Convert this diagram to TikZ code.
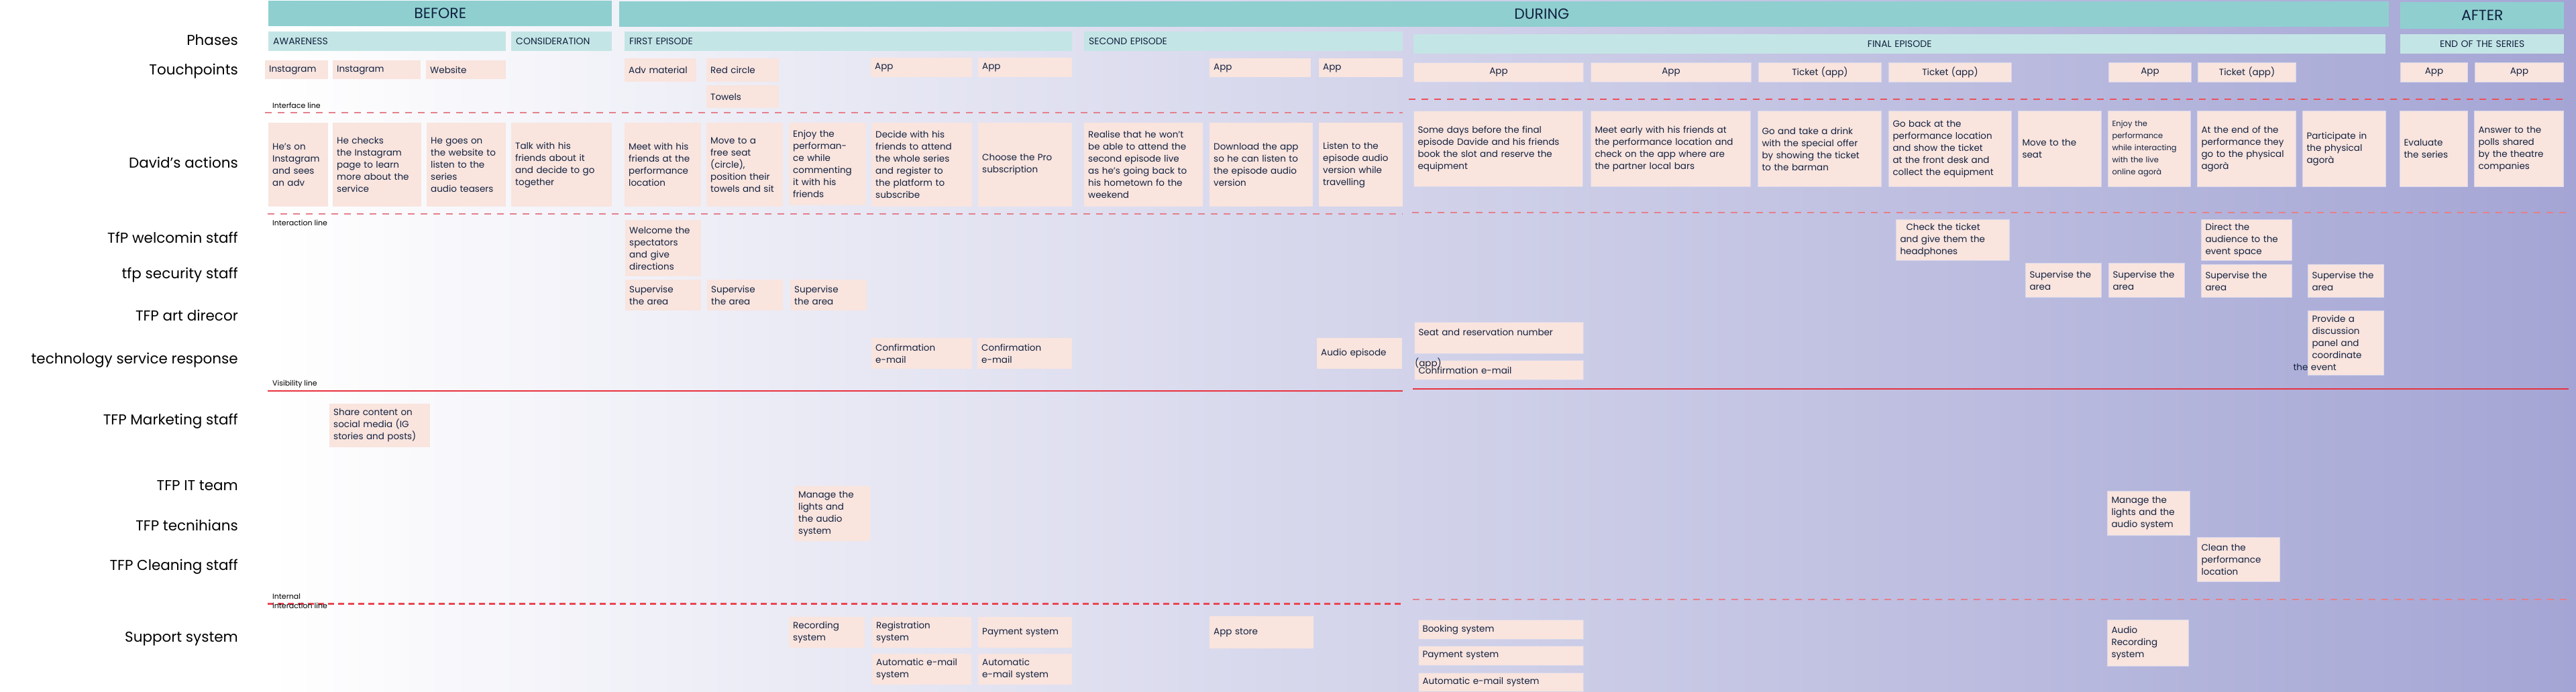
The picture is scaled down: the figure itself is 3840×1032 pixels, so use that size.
\documentclass[tikz,border=0pt]{standalone}
\usepackage{fontspec}
\setmainfont{Poppins}
\definecolor{teal1}{RGB}{143,207,208}
\definecolor{teal2}{RGB}{196,229,229}
\definecolor{cardfill}{RGB}{249,228,222}
\definecolor{navy}{RGB}{18,34,64}
\definecolor{lav}{RGB}{164,165,212}
\definecolor{dashpink}{RGB}{229,128,140}
\definecolor{redline}{RGB}{232,50,63}

\begin{document}
\begin{tikzpicture}[x=1pt,y=-1pt]
\tikzstyle{lane}=[anchor=east,inner sep=0pt,font=\fontsize{21.5}{24}\selectfont]
\tikzstyle{linelab}=[anchor=west,inner sep=0pt,align=left,font=\fontsize{11}{14}\selectfont]
\tikzstyle{header}=[fill=teal1,text=navy,anchor=north west,inner sep=0pt,font=\fontsize{22}{26}\selectfont]
\tikzstyle{phase}=[fill=teal2,text=navy,anchor=north west,inner xsep=7pt,inner ysep=0pt,align=left,font=\fontsize{14}{17}\selectfont]
\tikzstyle{card}=[fill=cardfill,text=navy,anchor=north west,inner xsep=6pt,inner ysep=2pt,align=left,font=\fontsize{13.5}{18}\selectfont]
\tikzstyle{cardb}=[card,draw=white!55!lav,line width=1pt]
\tikzstyle{dashline}=[dashpink,line width=2pt,dash pattern=on 10pt off 9pt]

\useasboundingbox (0,0) rectangle (3840,1032);
\fill[white] (0,0) rectangle (3840,1032);
\shade[left color=white,right color=lav] (400,0) rectangle (3840,1032);

\draw[dashline] (395,168) -- (2091,168);
\draw[dashline,redline!85!white] (2100,148) -- (3829,148);
\draw[dashline] (399,319) -- (2091,319);
\draw[dashline] (2105,317) -- (3829,317);
\draw[redline,line width=2.5pt] (399,583) -- (2091,583);
\draw[redline,line width=2.5pt] (2106,580) -- (3829,580);
\draw[dashline,redline!90!white,line width=3pt,dash pattern=on 9pt off 6pt] (399,900) -- (2092,900);
\draw[dashline] (2106,894) -- (3829,894);

\node[linelab] (N_1) at (406,157) {Interface line};
\node[linelab] (N_2) at (406,332) {Interaction line};
\node[linelab] (N_3) at (406,573) {Visibility line};
\node[linelab] (N_4) at (406,896) {Internal\\interaction line};

\node[lane] (L_1)  at (355,60)  {Phases};
\node[lane] (L_2)  at (355,106) {Touchpoints};
\node[lane] (L_3)  at (355,242) {David’s actions};
\node[lane] (L_4)  at (355,354) {TfP welcomin staff};
\node[lane] (L_5)  at (355,410) {tfp security staff};
\node[lane] (L_6)  at (355,470) {TFP art direcor};
\node[lane] (L_7)  at (355,537) {technology service response};
\node[lane] (L_8)  at (355,628) {TFP Marketing staff};
\node[lane] (L_9)  at (355,724) {TFP IT team};
\node[lane] (L_10) at (355,783) {TFP tecnihians};
\node[lane] (L_11) at (355,845) {TFP Cleaning staff};
\node[lane] (L_12) at (355,953) {Support system};

\node[header,minimum width=512pt,minimum height=38pt]  (H_1) at (400,1)  {BEFORE};
\node[header,minimum width=2638pt,minimum height=38pt] (H_2) at (923,2)  {\hspace*{112pt}DURING};
\node[header,minimum width=244pt,minimum height=40pt]  (H_3) at (3578,3) {AFTER};

\node[phase,text width=340pt,minimum height=29pt]  (Ph_1) at (400,47)  {AWARENESS};
\node[phase,text width=136pt,minimum height=29pt]  (Ph_2) at (762,47)  {CONSIDERATION};
\node[phase,text width=653pt,minimum height=29pt]  (Ph_3) at (931,47)  {FIRST EPISODE};
\node[phase,text width=461pt,minimum height=29pt]  (Ph_4) at (1616,47) {SECOND EPISODE};
\node[phase,text width=1435pt,minimum height=29pt,align=center] (Ph_5) at (2107,51) {FINAL EPISODE};
\node[phase,text width=230pt,minimum height=29pt,align=center]  (Ph_6) at (3578,51) {END OF THE SERIES};

\node[card,text width=82pt,minimum height=28pt]  (T_1)  at (395,90)   {Instagram};
\node[card,text width=119pt,minimum height=28pt] (T_2)  at (496,90)   {Instagram};
\node[card,text width=107pt,minimum height=28pt] (T_3)  at (635,90)   {Website};
\node[card,text width=95pt,minimum height=35pt]  (T_4)  at (931,87)   {Adv material};
\node[card,text width=96pt,minimum height=35pt]  (T_5)  at (1053,87)  {Red circle};
\node[card,text width=96pt,minimum height=34pt]  (T_6)  at (1053,127) {Towels};
\node[card,text width=139pt,minimum height=29pt] (T_7)  at (1298,86)  {App};
\node[card,text width=128pt,minimum height=29pt] (T_8)  at (1458,86)  {App};
\node[card,text width=139pt,minimum height=28pt] (T_9)  at (1803,87)  {App};
\node[card,text width=113pt,minimum height=28pt] (T_10) at (1966,87)  {App};
\node[cardb,text width=241pt,minimum height=29pt,align=center] (T_11) at (2107,93) {App};
\node[cardb,text width=227pt,minimum height=29pt,align=center] (T_12) at (2371,93) {App};
\node[cardb,text width=171pt,minimum height=29pt,align=center] (T_13) at (2621,93) {Ticket (app)};
\node[cardb,text width=171pt,minimum height=29pt,align=center] (T_14) at (2815,93) {Ticket (app)};
\node[cardb,text width=111pt,minimum height=29pt,align=center] (T_15) at (3143,93) {App};
\node[cardb,text width=134pt,minimum height=29pt,align=center] (T_16) at (3276,93) {Ticket (app)};
\node[cardb,text width=88pt,minimum height=29pt,align=center]  (T_17) at (3578,93) {App};
\node[cardb,text width=120pt,minimum height=29pt,align=center] (T_18) at (3689,93) {App};

\node[card,text width=77pt,minimum height=125pt]  (A_1)  at (400,183)  {He’s on\\Instagram\\and sees\\an adv};
\node[card,text width=120pt,minimum height=125pt] (A_2)  at (496,183)  {He checks\\the Instagram\\page to learn\\more about the\\service};
\node[card,text width=106pt,minimum height=125pt] (A_3)  at (636,183)  {He goes on\\the website to\\listen to the\\series\\audio teasers};
\node[card,text width=138pt,minimum height=125pt] (A_4)  at (762,183)  {Talk with his\\friends about it\\and decide to go\\together};
\node[card,text width=102pt,minimum height=125pt] (A_5)  at (931,183)  {Meet with his\\friends at the\\performance\\location};
\node[card,text width=102pt,minimum height=125pt] (A_6)  at (1053,183) {Move to a\\free seat\\(circle),\\position their\\towels and sit};
\node[card,text width=103pt,minimum height=123pt] (A_7)  at (1176,183) {Enjoy the\\performan-\\ce while\\commenting\\it with his\\friends};
\node[card,text width=138pt,minimum height=125pt] (A_8)  at (1299,183) {Decide with his\\friends to attend\\the whole series\\and register to\\the platform to\\subscribe};
\node[card,text width=128pt,minimum height=125pt] (A_9)  at (1458,183) {Choose the Pro\\subscription};
\node[card,text width=165pt,minimum height=125pt] (A_10) at (1616,183) {Realise that he won’t\\be able to attend the\\second episode live\\as he’s going back to\\his hometown fo the\\weekend};
\node[card,text width=142pt,minimum height=125pt] (A_11) at (1803,183) {Download the app\\so he can listen to\\the episode audio\\version};
\node[card,text width=113pt,minimum height=125pt] (A_12) at (1966,183) {Listen to the\\episode audio\\version while\\travelling};
\node[cardb,text width=240pt,minimum height=113pt] (A_13) at (2107,165) {Some days before the final\\episode Davide and his friends\\book the slot and reserve the\\equipment};
\node[cardb,text width=226pt,minimum height=113pt] (A_14) at (2371,165) {Meet early with his friends at\\the performance location and\\check on the app where are\\the partner local bars};
\node[cardb,text width=172pt,minimum height=113pt] (A_15) at (2620,165) {Go and take a drink\\with the special offer\\by showing the ticket\\to the barman};
\node[cardb,text width=171pt,minimum height=113pt] (A_16) at (2815,165) {Go back at the\\performance location\\and show the ticket\\at the front desk and\\collect the equipment};
\node[cardb,text width=112pt,minimum height=113pt] (A_17) at (3008,165) {Move to the\\seat};
\node[cardb,text width=111pt,minimum height=113pt,font=\fontsize{11.5}{18}\selectfont] (A_18) at (3142,165) {Enjoy the\\performance\\while interacting\\with the live\\online agorà};
\node[cardb,text width=135pt,minimum height=113pt] (A_19) at (3275,165) {At the end of the\\performance they\\go to the physical\\agorà};
\node[cardb,text width=112pt,minimum height=113pt] (A_20) at (3432,165) {Participate in\\the physical\\agorà};
\node[cardb,text width=89pt,minimum height=113pt]  (A_21) at (3577,165) {Evaluate\\the series};
\node[cardb,text width=121pt,minimum height=113pt] (A_22) at (3688,165) {Answer to the\\polls shared\\by the theatre\\companies};

\node[card,text width=101pt,minimum height=84pt]  (S_1)  at (932,328)  {Welcome the\\spectators\\and give\\directions};
\node[card,text width=101pt,minimum height=46pt]  (S_2)  at (932,417)  {Supervise\\the area};
\node[card,text width=101pt,minimum height=46pt]  (S_3)  at (1054,417) {Supervise\\the area};
\node[card,text width=102pt,minimum height=46pt]  (S_4)  at (1178,417) {Supervise\\the area};
\node[cardb,text width=157pt,minimum height=61pt] (S_5)  at (2826,327) {\hspace*{9pt}Check the ticket\\and give them the\\headphones};
\node[cardb,text width=101pt,minimum height=51pt] (S_6)  at (3019,392) {Supervise the\\area};
\node[cardb,text width=101pt,minimum height=51pt] (S_7)  at (3143,392) {Supervise the\\area};
\node[cardb,text width=123pt,minimum height=61pt] (S_8)  at (3281,327) {Direct the\\audience to the\\event space};
\node[cardb,text width=123pt,minimum height=49pt] (S_9)  at (3281,394) {Supervise the\\area};
\node[cardb,text width=101pt,minimum height=49pt] (S_10) at (3440,394) {Supervise the\\area};
\node[cardb,text width=101pt,minimum height=96pt] (S_11) at (3440,463) {Provide a\\discussion\\panel and\\coordinate\\\hspace*{-28pt}the event};

\node[card,text width=138pt,minimum height=46pt]  (C_1) at (1299,504) {Confirmation\\e-mail};
\node[card,text width=129pt,minimum height=46pt]  (C_2) at (1457,504) {Confirmation\\e-mail};
\node[card,text width=115pt,minimum height=46pt]  (C_3) at (1963,504) {Audio episode};
\node[cardb,text width=240pt,minimum height=47pt] (C_4) at (2108,480) {Seat and reservation number\\\mbox{}};
\node[cardb,text width=240pt,minimum height=29pt] (C_5) at (2108,537) {Confirmation e-mail};
\node[anchor=west,inner sep=0pt,text=navy,font=\fontsize{13.5}{18}\selectfont] (C_6) at (2109,542) {(app)};

\node[card,text width=138pt,minimum height=65pt]  (M_1) at (491,602) {Share content on\\social media (IG\\stories and posts)};

\node[card,text width=101pt,minimum height=82pt]  (I_1) at (1184,725) {Manage the\\lights and\\the audio\\system};
\node[cardb,text width=111pt,minimum height=66pt] (I_2) at (3141,732) {Manage the\\lights and the\\audio system};
\node[cardb,text width=111pt,minimum height=66pt] (I_3) at (3275,801) {Clean the\\performance\\location};

\node[card,text width=101pt,minimum height=46pt]  (P_1)  at (1176,920) {Recording\\system};
\node[card,text width=136pt,minimum height=46pt]  (P_2)  at (1300,920) {Registration\\system};
\node[card,text width=128pt,minimum height=46pt]  (P_3)  at (1458,920) {Payment system};
\node[card,text width=136pt,minimum height=46pt]  (P_4)  at (1300,975) {Automatic e-mail\\system};
\node[card,text width=128pt,minimum height=46pt]  (P_5)  at (1458,975) {Automatic\\e-mail system};
\node[card,text width=143pt,minimum height=48pt]  (P_6)  at (1803,919) {App store};
\node[cardb,text width=234pt,minimum height=29pt] (P_7)  at (2114,924) {Booking system};
\node[cardb,text width=234pt,minimum height=29pt] (P_8)  at (2114,963) {Payment system};
\node[cardb,text width=234pt,minimum height=28pt] (P_9)  at (2114,1003) {Automatic e-mail system};
\node[cardb,text width=109pt,minimum height=69pt] (P_10) at (3141,924) {Audio\\Recording\\system};
\end{tikzpicture}
\end{document}
